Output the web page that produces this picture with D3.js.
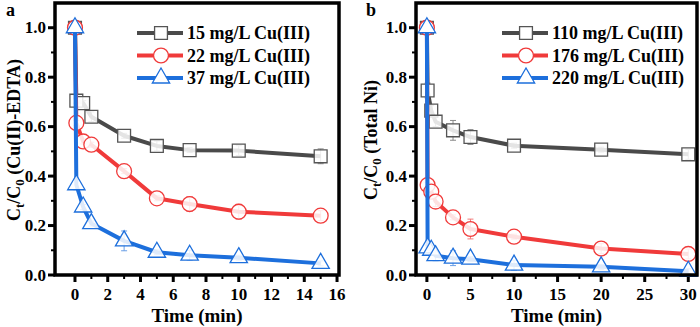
<!DOCTYPE html>
<html>
<head>
<meta charset="utf-8">
<script src="https://cdn.jsdelivr.net/npm/d3@7"></script>
<style>
  body { margin: 0; background: #fff; }
  svg { display: block; font-family: "Liberation Serif", "Times New Roman", serif; font-weight: bold; }
</style>
</head>
<body>
<div id="chart"></div>
<script>
const width = 700, height = 327;

// panel a: Cu(II)-EDTA
const timesA = [0, 0.083, 0.5, 1, 3, 5, 7, 10, 15];
const a15 = [1.0, 0.705, 0.695, 0.64, 0.563, 0.522, 0.505, 0.503, 0.48];
const a22 = [1.0, 0.615, 0.54, 0.527, 0.42, 0.31, 0.287, 0.256, 0.24];
const a37 = [1.0, 0.365, 0.275, 0.208, 0.138, 0.092, 0.08, 0.07, 0.047];
const a15err = [0, 0.01, 0.01, 0.02, 0.01, 0.02, 0.01, 0.02, 0.03];
const a22err = [0, 0.01, 0.01, 0.01, 0.01, 0.01, 0.03, 0.03, 0.02];
const a37err = [0, 0.02, 0.01, 0.01, 0.04, 0.01, 0.02, 0.01, 0.01];

// panel b: Total Ni
const timesB = [0, 0.083, 0.5, 1, 3, 5, 10, 20, 30];
const b110 = [1.0, 0.746, 0.665, 0.62, 0.585, 0.558, 0.523, 0.507, 0.488];
const b176 = [1.0, 0.364, 0.337, 0.297, 0.233, 0.186, 0.155, 0.107, 0.085];
const b220 = [1.0, 0.11, 0.1, 0.078, 0.068, 0.064, 0.04, 0.033, 0.015];
const b110err = [0, 0.03, 0.02, 0.02, 0.04, 0.03, 0.01, 0.01, 0.02];
const b176err = [0, 0.01, 0.02, 0.02, 0.01, 0.04, 0.01, 0.02, 0.02];
const b220err = [0, 0.01, 0.01, 0.02, 0.03, 0.01, 0.02, 0.01, 0.01];

const yTicks = [0, 0.2, 0.4, 0.6, 0.8, 1.0];
const xTicksA = [0, 2, 4, 6, 8, 10, 12, 14, 16];
const xTicksB = [0, 5, 10, 15, 20, 25, 30];

const styles = [
  { color: "#4a4a4a", mark: "#555", err: "#8a8a8a", symbol: d3.symbolSquare, size: 165 },
  { color: "#f03a3a", mark: "#f03a3a", err: "#f27a7a", symbol: d3.symbolCircle, size: 175 },
  { color: "#1d6fdc", mark: "#1d6fdc", err: "#6a9fe6", symbol: d3.symbolTriangle, size: 130 }
];

const panels = [
  {
    letter: "a", left: 55, right: 339, xDomain: [-1.22, 16.12], xTicks: xTicksA, xMinor: 1,
    times: timesA, series: [a15, a22, a37], errs: [a15err, a22err, a37err],
    names: ["15 mg/L Cu(III)", "22 mg/L Cu(III)", "37 mg/L Cu(III)"],
    ylab: "(Cu(II)-EDTA)", ylabX: 20, legX: 137, letterX: 6
  },
  {
    letter: "b", left: 416, right: 697, xDomain: [-1.25, 31.0], xTicks: xTicksB, xMinor: 2.5,
    times: timesB, series: [b110, b176, b220], errs: [b110err, b176err, b220err],
    names: ["110 mg/L Cu(III)", "176 mg/L Cu(III)", "220 mg/L Cu(III)"],
    ylab: "(Total Ni)", ylabX: 377, legX: 502, letterX: 366
  }
];

const svg = d3.select("#chart").append("svg")
  .attr("width", width).attr("height", height);

const plotTop = 3, plotBottom = 275;
const y = d3.scaleLinear().domain([0, 1.1]).range([plotBottom, plotTop]);

panels.forEach(p => {
  const x = d3.scaleLinear().domain(p.xDomain).range([p.left, p.right]);
  const g = svg.append("g");

  // minor ticks
  const yMinor = d3.range(0.1, 1.1, 0.2);
  g.selectAll(".ymin").data(yMinor).join("line")
    .attr("x1", p.left - 4).attr("x2", p.left)
    .attr("y1", d => y(d)).attr("y2", d => y(d))
    .attr("stroke", "#000").attr("stroke-width", 2);
  const xMin = d3.range(p.xMinor, p.xDomain[1], p.xMinor * 2);
  g.selectAll(".xmin").data(xMin).join("line")
    .attr("x1", d => x(d)).attr("x2", d => x(d))
    .attr("y1", plotBottom).attr("y2", plotBottom + 4)
    .attr("stroke", "#000").attr("stroke-width", 2);

  // major ticks + labels
  g.selectAll(".ymaj").data(yTicks).join("line")
    .attr("x1", p.left - 7).attr("x2", p.left)
    .attr("y1", d => y(d)).attr("y2", d => y(d))
    .attr("stroke", "#000").attr("stroke-width", 3);
  g.selectAll(".ylab").data(yTicks).join("text")
    .attr("x", p.left - 9).attr("y", d => y(d))
    .attr("text-anchor", "end").attr("dominant-baseline", "central")
    .style("font-size", "17px").text(d => d.toFixed(1));
  g.selectAll(".xmaj").data(p.xTicks).join("line")
    .attr("x1", d => x(d)).attr("x2", d => x(d))
    .attr("y1", plotBottom).attr("y2", plotBottom + 7)
    .attr("stroke", "#000").attr("stroke-width", 3);
  g.selectAll(".xlab").data(p.xTicks).join("text")
    .attr("x", d => x(d)).attr("y", 300)
    .attr("text-anchor", "middle")
    .style("font-size", "17px").text(d => d);

  g.append("text")
    .attr("x", (p.left + p.right) / 2).attr("y", 322)
    .attr("text-anchor", "middle").style("font-size", "19px")
    .text("Time (min)");

  // rotated y title with subscripts
  const yl = g.append("text")
    .attr("transform", `translate(${p.ylabX},140) rotate(-90)`)
    .attr("text-anchor", "middle").style("font-size", "18px");
  yl.append("tspan").text("C");
  yl.append("tspan").attr("dy", 4).style("font-size", "13px").text("t");
  yl.append("tspan").attr("dy", -4).text("/C");
  yl.append("tspan").attr("dy", 4).style("font-size", "13px").text("0");
  yl.append("tspan").attr("dy", -4).text(" " + p.ylab);

  g.append("text")
    .attr("x", p.letterX).attr("y", 16)
    .style("font-size", "18px").text(p.letter);

  // series
  const line = d3.line().x(d => x(d[0])).y(d => y(d[1]));
  p.series.forEach((vals, i) => {
    const st = styles[i];
    const pts = p.times.map((t, j) => [t, vals[j], p.errs[i][j]]);
    const sg = g.append("g");
    sg.selectAll(".eb").data(pts.filter(d => d[2] > 0)).join("path")
      .attr("d", d => {
        const cx = x(d[0]), y1 = y(d[1] - d[2]), y2 = y(d[1] + d[2]);
        return `M${cx - 3},${y1}H${cx + 3}M${cx},${y1}V${y2}M${cx - 3},${y2}H${cx + 3}`;
      })
      .attr("fill", "none").attr("stroke", st.err).attr("stroke-width", 1);
    sg.append("path").datum(pts).attr("d", line)
      .attr("fill", "none").attr("stroke", st.color).attr("stroke-width", 4)
      .attr("stroke-linejoin", "round");
    sg.selectAll(".mk").data(pts.slice(1)).join("path")
      .attr("transform", d => `translate(${x(d[0])},${y(d[1])})`)
      .attr("d", d3.symbol(st.symbol, st.size))
      .attr("fill", "#fff").attr("fill-opacity", 0.85)
      .attr("stroke", st.mark).attr("stroke-width", 1.3);
    sg.append("path")
      .attr("transform", `translate(${x(pts[0][0])},${y(pts[0][1])})`)
      .attr("d", d3.symbol(st.symbol, st.size))
      .attr("fill", "#fff").attr("stroke", st.mark).attr("stroke-width", 1.3);
  });

  // legend
  const legY = [33, 55.5, 78];
  p.names.forEach((n, i) => {
    const st = styles[i];
    const lg = g.append("g");
    lg.append("line")
      .attr("x1", p.legX).attr("x2", p.legX + 46)
      .attr("y1", legY[i]).attr("y2", legY[i])
      .attr("stroke", st.color).attr("stroke-width", 4);
    lg.append("path")
      .attr("transform", `translate(${p.legX + 24},${legY[i]})`)
      .attr("d", d3.symbol(st.symbol, st.size))
      .attr("fill", "#fff").attr("stroke", st.mark).attr("stroke-width", 1.3);
    lg.append("text")
      .attr("x", p.legX + 50).attr("y", legY[i])
      .attr("dominant-baseline", "central").style("font-size", "18px")
      .text(n);
  });

  // frame
  g.append("rect")
    .attr("x", p.left).attr("y", plotTop)
    .attr("width", p.right - p.left).attr("height", plotBottom - plotTop)
    .attr("fill", "none").attr("stroke", "#000").attr("stroke-width", 3.5);
});
</script>
</body>
</html>
